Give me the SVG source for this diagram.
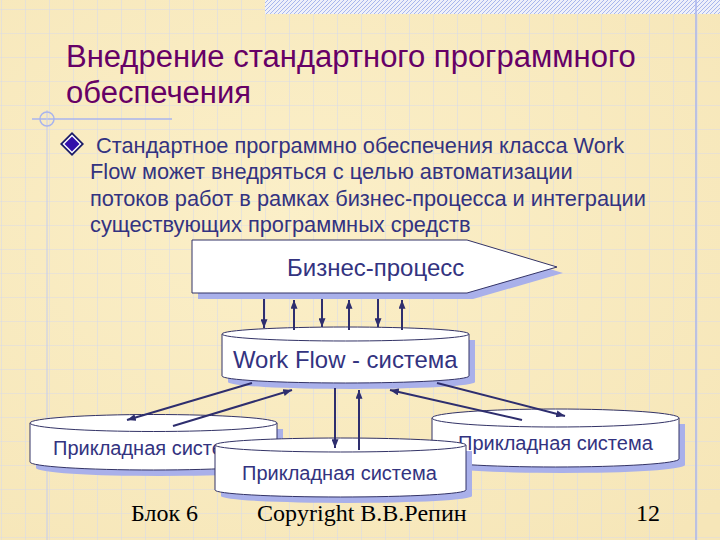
<svg xmlns="http://www.w3.org/2000/svg" width="720" height="540" viewBox="0 0 720 540">
<defs>
<pattern id="grid" x="1" y="9" width="24" height="24" patternUnits="userSpaceOnUse">
<path d="M0,0 H24 M0,0 V24" stroke="#D6DAEC" stroke-width="1.2" fill="none" opacity="0.9"/>
</pattern>
<pattern id="hatch" width="4" height="4" patternUnits="userSpaceOnUse">
<rect width="4" height="4" fill="#EEF0FA"/>
<path d="M0,4 L4,0 M-1,1 L1,-1 M3,5 L5,3" stroke="#A8B6EC" stroke-width="1"/>
</pattern>
<radialGradient id="paper" cx="0.4" cy="0.4" r="0.8">
<stop offset="0" stop-color="#FBEFC8"/>
<stop offset="1" stop-color="#F6E6B8"/>
</radialGradient>
<marker id="ah" viewBox="0 0 10 8" refX="10" refY="4" markerWidth="9" markerHeight="7" markerUnits="userSpaceOnUse" orient="auto">
<path d="M0,0 L10,4 L0,8 z" fill="#2E2E6E"/>
</marker>
</defs>
<style>
.title{font-family:"Liberation Sans",Arial,sans-serif;font-size:31px;fill:#660066}
.body{font-family:"Liberation Sans",Arial,sans-serif;font-size:21.8px;fill:#333380}
.lbl{font-family:"Liberation Sans",Arial,sans-serif;fill:#333380}
.foot{font-family:"Liberation Serif","Times New Roman",serif;font-size:24px;fill:#000}
.shape{fill:#FFFFFF;stroke:#333366;stroke-width:1}
.shadow{fill:#A9B0EA}
.conn line{stroke:#2E2E6E;stroke-width:2;marker-end:url(#ah)}
</style>
<rect width="720" height="540" fill="url(#paper)"/>
<rect width="720" height="540" fill="url(#grid)"/>
<rect x="265" y="0" width="455" height="14" fill="url(#hatch)"/>
<line x1="696" y1="0" x2="696" y2="540" stroke="#A8B4EE" stroke-width="1.5"/>
<line x1="32" y1="119" x2="172" y2="119" stroke="#A8B4EE" stroke-width="1.5"/>
<line x1="47" y1="110" x2="47" y2="540" stroke="#C4CCEE" stroke-width="1"/>
<circle cx="47" cy="119" r="7" fill="none" stroke="#A8B4EE" stroke-width="1.5"/>

<g id="title">
<text class="title" x="66" y="67">Внедрение стандартного программного</text>
<text class="title" x="66" y="103">обеспечения</text>
</g>

<g id="bullet">
<path d="M72,132 L84,144 L72,156 L60,144 z" fill="#1A1A66"/>
<path d="M72,134.5 L81.5,144 L72,153.5 L62.5,144 z" fill="#FFFFFF"/>
<path d="M72,136.5 L79.5,144 L72,151.5 L64.5,144 z" fill="#3311AA"/>
</g>
<g id="body">
<text class="body" x="96" y="153">Стандартное программно обеспечения класса Work</text>
<text class="body" x="90" y="179">Flow может внедряться с целью автоматизации</text>
<text class="body" x="90" y="206">потоков работ в рамках бизнес-процесса и интеграции</text>
<text class="body" x="90" y="232">существующих программных средств</text>
</g>

<g id="business-process">
<path class="shadow" d="M198,246 H473 L563,273 L473,299 H198 z"/>
<path class="shape" d="M192,240 H467 L557,267 L467,293 H192 z"/>
<text class="lbl" x="287" y="276" font-size="24">Бизнес-процесс</text>
</g>

<g id="workflow">
<path class="shadow" d="M228,340 V382 A123.5,7 0 0 0 475,382 V340 z"/>
<path class="shape" d="M222,334 V376 A123.5,7 0 0 0 469,376 V334"/>
<ellipse class="shape" cx="345.5" cy="334" rx="123.5" ry="7"/>
<text class="lbl" x="233" y="368" font-size="23.9">Work Flow - система</text>
</g>

<g id="app-left">
<path class="shadow" d="M36,429 V468 A123.5,8 0 0 0 283,468 V429 z"/>
<path class="shape" d="M30,423 V462 A123.5,8 0 0 0 277,462 V423"/>
<ellipse class="shape" cx="153.5" cy="423" rx="123.5" ry="8.5"/>
<text class="lbl" x="53" y="455" font-size="20">Прикладная система</text>
</g>

<g id="app-right">
<path class="shadow" d="M438,424 V465 A123.5,8 0 0 0 685,465 V424 z"/>
<path class="shape" d="M432,418 V459 A123.5,8 0 0 0 679,459 V418"/>
<ellipse class="shape" cx="555.5" cy="418" rx="123.5" ry="9"/>
<text class="lbl" x="458" y="450" font-size="20">Прикладная система</text>
</g>

<g id="app-middle">
<path class="shadow" d="M221,451 V496 A125.5,7 0 0 0 472,496 V451 z"/>
<path class="shape" d="M215,445 V490 A125.5,7 0 0 0 466,490 V445"/>
<ellipse class="shape" cx="340.5" cy="445" rx="125.5" ry="7"/>
<text class="lbl" x="242" y="480" font-size="20">Прикладная система</text>
</g>

<g id="connectors" class="conn">
<line x1="264" y1="299" x2="264" y2="328"/>
<line x1="294" y1="330" x2="294" y2="300"/>
<line x1="322" y1="299" x2="322" y2="327"/>
<line x1="349" y1="330" x2="349" y2="300"/>
<line x1="378" y1="299" x2="378" y2="327"/>
<line x1="402" y1="330" x2="402" y2="300"/>
<line x1="252" y1="383" x2="127" y2="420"/>
<line x1="173" y1="426" x2="292" y2="390"/>
<line x1="335" y1="388" x2="335" y2="448"/>
<line x1="359" y1="450" x2="359" y2="390"/>
<line x1="522" y1="420" x2="390" y2="390"/>
<line x1="437" y1="383" x2="565" y2="416"/>
</g>

<g id="footer">
<text class="foot" x="131" y="521">Блок 6</text>
<text class="foot" x="257" y="521">Copyright В.В.Репин</text>
<text class="foot" x="636" y="521">12</text>
</g>
</svg>
